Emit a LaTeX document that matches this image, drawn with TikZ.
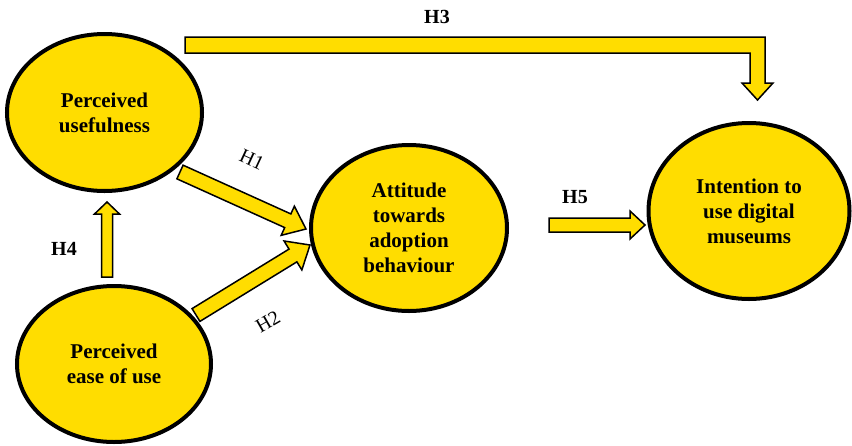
\documentclass[tikz,border=0pt]{standalone}
\usepackage{fontspec}
\setmainfont{Liberation Serif}
\usetikzlibrary{shapes.geometric,calc}
\definecolor{fillY}{RGB}{255,221,0}
\tikzset{
  ell/.style={ellipse, draw, line width=4pt, fill=fillY, align=center, inner sep=0pt,
    font=\bfseries\fontsize{21}{25}\selectfont},
  arrowbox/.style={draw, fill=fillY, line width=1.5pt, line join=miter},
  lab/.style={font=\fontsize{20}{24}\selectfont, inner sep=0pt},
  blab/.style={font=\bfseries\fontsize{20}{24}\selectfont, inner sep=0pt}
}
\newcommand{\blockarrow}[5]{%
  \path ($(#2)!#5!(#1)$) coordinate (hb);
  \draw[arrowbox] ($(#1)!#3!90:(#2)$) -- ($(hb)!#3!90:(#2)$) -- ($(hb)!#4!90:(#2)$) -- (#2)
    -- ($(hb)!#4!-90:(#2)$) -- ($(hb)!#3!-90:(#2)$) -- ($(#1)!#3!-90:(#2)$) -- cycle;
}
\begin{document}
\begin{tikzpicture}[x=1pt,y=-1pt]
\useasboundingbox (0,0) rectangle (852,445);
\fill[white] (0,0) rectangle (852,445);

\node[ell, minimum width=195pt, minimum height=157pt] (pu) at (104.5,112.5) {Perceived\\usefulness};
\node[ell, minimum width=194pt, minimum height=156pt] (peu) at (114,364) {Perceived\\ease of use};
\node[ell, minimum width=196pt, minimum height=166pt] (att) at (409,228) {Attitude\\towards\\adoption\\behaviour};
\node[ell, minimum width=201pt, minimum height=176pt] (int) at (749,211) {Intention to\\use digital\\museums};

% named arrow end points
\coordinate (t1) at (180,172); \coordinate (h1) at (306,229);
\coordinate (t2) at (196,315); \coordinate (h2) at (310,245);
\coordinate (t4) at (107,277); \coordinate (h4) at (107,202);
\coordinate (t5) at (549,225); \coordinate (h5) at (645,225);

\blockarrow{t1}{h1}{7.5pt}{16pt}{20pt}
\blockarrow{t2}{h2}{7.5pt}{17pt}{20pt}
\blockarrow{t4}{h4}{5.5pt}{12.5pt}{12pt}
\blockarrow{t5}{h5}{7pt}{14pt}{15pt}

% H3 elbow arrow
\coordinate (t3) at (185,45);
\coordinate (h3) at (757.5,100);
\draw[arrowbox] (185,37) -- (765,37) -- (765,83) -- (773,83) -- (h3) -- (742,83)
  -- (750,83) -- (750,53) -- (185,53) -- cycle;

\node[lab, rotate=-25] (lh1) at (252,160) {H1};
\node[lab, rotate=30] (lh2) at (268,322) {H2};
\node[blab] (lh3) at (437,17) {H3};
\node[blab] (lh4) at (64,249) {H4};
\node[blab] (lh5) at (575,197) {H5};
\end{tikzpicture}
\end{document}
